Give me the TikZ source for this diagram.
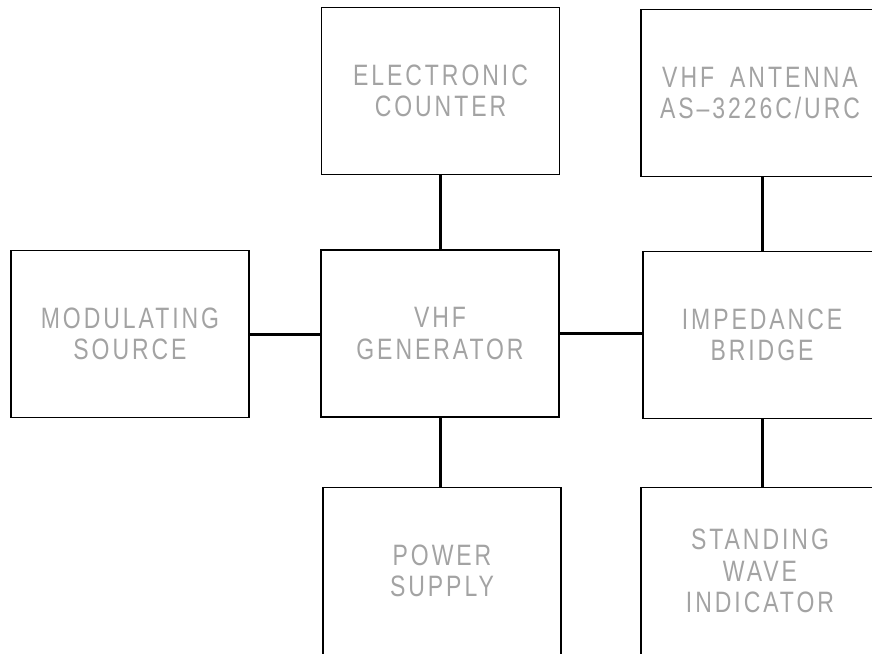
\documentclass[tikz,border=0pt]{standalone}
\usepackage{fontspec}
\newfontfamily\boxfont[FakeStretch=0.78,LetterSpace=10]{Liberation Sans}
\begin{document}
\begin{tikzpicture}[x=1pt,y=-1pt,
  blk/.style={draw=black,line width=1.6pt,minimum width=238pt,minimum height=167pt,
    align=center,inner sep=0pt,text=black!36,font=\boxfont\fontsize{29.5}{31.5}\selectfont},
  wire/.style={draw=black,line width=3pt}]
\useasboundingbox (0,0) rectangle (872,653);
\node[blk] (counter) at (440.5,91) {ELECTRONIC\\COUNTER};
\node[blk] (antenna) at (760,93) {VHF\hspace*{16pt}ANTENNA\\AS\textendash3226C/URC};
\node[blk] (modsrc) at (130,334) {MODULATING\\SOURCE};
\node[blk] (gen) at (440,333.5) {VHF\\GENERATOR};
\node[blk] (bridge) at (762,335) {IMPEDANCE\\BRIDGE};
\node[blk] (power) at (442,571) {POWER\\SUPPLY};
\node[blk] (swi) at (760,571) {STANDING\\WAVE\\INDICATOR};
\draw[wire] (counter.south) -- (counter.south |- gen.north);
\draw[wire] (bridge.north) -- (bridge.north |- antenna.south);
\draw[wire] (modsrc.east) -- (modsrc.east -| gen.west);
\draw[wire] (gen.east) -- (gen.east -| bridge.west);
\draw[wire] (gen.south) -- (gen.south |- power.north);
\draw[wire] (bridge.south) -- (bridge.south |- swi.north);
\end{tikzpicture}
\end{document}
